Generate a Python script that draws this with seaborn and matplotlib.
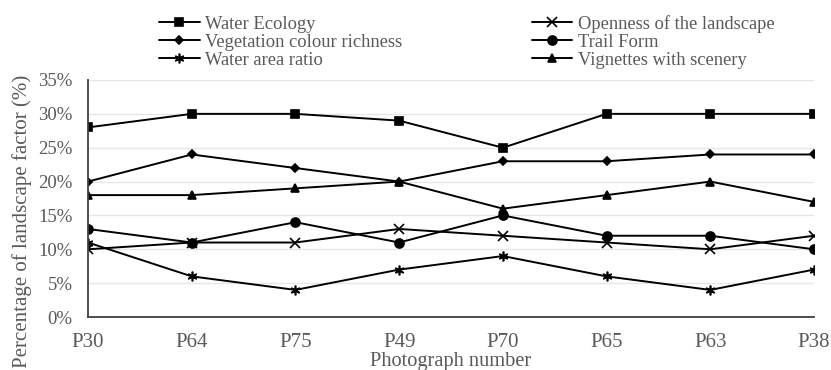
import pandas as pd
import seaborn as sns
import matplotlib.pyplot as plt
from matplotlib.ticker import FuncFormatter

# ---------------------------------------------
# Data (percent)
# ---------------------------------------------
photos = ['P30', 'P64', 'P75', 'P49', 'P70', 'P65', 'P63', 'P38']

water_ecology = [28, 30, 30, 29, 25, 30, 30, 30]
openness = [10, 11, 11, 13, 12, 11, 10, 12]
vegetation = [20, 24, 22, 20, 23, 23, 24, 24]
trail_form = [13, 11, 14, 11, 15, 12, 12, 10]
water_area = [11, 6, 4, 7, 9, 6, 4, 7]
vignettes = [18, 18, 19, 20, 16, 18, 20, 17]

series_names = ['Water Ecology', 'Openness of the landscape',
                'Vegetation colour richness', 'Trail Form',
                'Water area ratio', 'Vignettes with scenery']
series_values = [water_ecology, openness, vegetation, trail_form, water_area, vignettes]

# long-form table for seaborn
rows = []
for name, vals in zip(series_names, series_values):
    for p, v in zip(photos, vals):
        rows.append({'Photograph number': p, 'Percentage': v, 'Factor': name})
df = pd.DataFrame(rows)

# ---------------------------------------------
# Style
# ---------------------------------------------
sns.set_style('white')
plt.rcParams['font.family'] = ['Liberation Serif', 'DejaVu Serif']
text_grey = '#595959'

fig = plt.figure(figsize=(8.31, 3.70), dpi=100)
ax = fig.add_axes([88 / 831, 1 - 317 / 370, (814 - 88) / 831, (317 - 80) / 370])

markers = {
    'Water Ecology': 's',
    'Openness of the landscape': 'x',
    'Vegetation colour richness': 'D',
    'Trail Form': 'o',
    'Water area ratio': (6, 2, 0),
    'Vignettes with scenery': '^',
}
sizes = {'Water Ecology': 5.8, 'Openness of the landscape': 6.5,
         'Vegetation colour richness': 3.8, 'Trail Form': 6.5,
         'Water area ratio': 7, 'Vignettes with scenery': 6}

for name in series_names:
    sub = df[df['Factor'] == name]
    sns.lineplot(data=sub, x='Photograph number', y='Percentage', ax=ax,
                 color='black', linewidth=1.4, marker=markers[name],
                 markersize=sizes[name], markeredgewidth=1.2,
                 markeredgecolor='black', label=name, sort=False)

# ---------------------------------------------
# Axes formatting
# ---------------------------------------------
ax.set_xlim(0, len(photos) - 1)
ax.set_ylim(0, 35)
ax.set_yticks(range(0, 36, 5))
ax.yaxis.set_major_formatter(FuncFormatter(lambda v, _: f'{int(v)}%'))
ax.grid(axis='y', color='#e6e6e6', linewidth=1)
ax.grid(axis='x', visible=False)
ax.set_axisbelow(True)

for side in ['top', 'right']:
    ax.spines[side].set_visible(False)
for side in ['left', 'bottom']:
    ax.spines[side].set_color('#404040')
    ax.spines[side].set_linewidth(1.3)

ax.tick_params(axis='x', direction='in', length=5, width=1.2, color='#404040',
               labelsize=15, labelcolor=text_grey, pad=11.5)
ax.tick_params(axis='y', direction='in', length=5, width=1.2, color='#404040',
               labelsize=13.5, labelcolor=text_grey, pad=11)

ax.set_xlabel('Photograph number', fontsize=14.7, color=text_grey)
ax.xaxis.set_label_coords(0.5, -0.148)
ax.set_ylabel('Percentage of landscape factor (%)', fontsize=15, color=text_grey)
ax.yaxis.set_label_coords(-0.077, 0.405)

# legend: two columns, row-wise order like the original
handles, labels = ax.get_legend_handles_labels()
order = [0, 2, 4, 1, 3, 5]
ax.legend([handles[i] for i in order], [labels[i] for i in order],
          ncol=2, frameon=False, fontsize=13.3, labelspacing=0.05,
          handlelength=2.2, handletextpad=0.3, columnspacing=7.0,
          loc='upper left', bbox_to_anchor=(159 / 831, 1 - 15 / 370),
          bbox_transform=fig.transFigure, borderaxespad=0, borderpad=0,
          labelcolor=text_grey)

plt.savefig('out.png', dpi=100)
